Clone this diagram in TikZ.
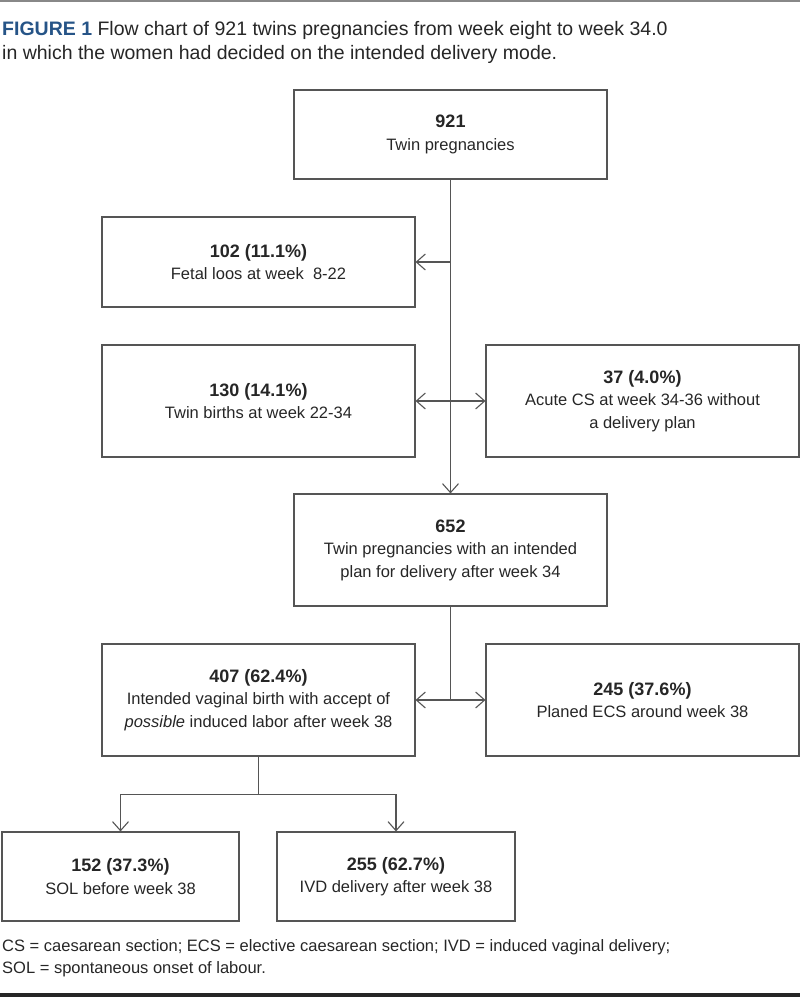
\documentclass[tikz,border=0pt]{standalone}
\usepackage{fontspec}
\setmainfont{Liberation Sans}
\usepackage{xcolor}
\usetikzlibrary{arrows.meta}

\definecolor{figblue}{RGB}{38,84,135}
\definecolor{linegray}{RGB}{85,85,85}
\definecolor{txtgray}{RGB}{38,38,38}

\newcommand{\boxnum}[1]{{\fontsize{18}{22.5}\selectfont\bfseries #1}}

\tikzset{
  flowbox/.style={draw=linegray, line width=1.1pt, text=txtgray, align=center,
    minimum width=313pt, minimum height=112pt, inner sep=0pt, font=\fontsize{16.5}{22.5}\selectfont},
  flowline/.style={draw=linegray, line width=1.1pt},
  flowarrow/.style={flowline, -{Straight Barb[length=9pt,width=16pt,line width=1.1pt]}},
  flowboth/.style={flowline, {Straight Barb[length=9pt,width=16pt,line width=1.1pt]}-{Straight Barb[length=9pt,width=16pt,line width=1.1pt]}}
}

\begin{document}
\begin{tikzpicture}[x=1pt,y=1pt,yscale=-1,xscale=1]
\useasboundingbox (0,0) rectangle (800,997);

%Rules
\fill[linegray!70] (0,0) rectangle (800,2);
\fill[black!85] (0,993) rectangle (800,997);

% Caption
\node[anchor=north west, inner sep=0pt, align=left, text=txtgray,
  font=\fontsize{19.5}{24}\selectfont] (caption) at (2,21)
  {{\color{figblue}\bfseries FIGURE 1} Flow chart of 921 twins pregnancies from week eight to week 34.0\\
   in which the women had decided on the intended delivery mode.};

%Boxes
\node[flowbox, minimum height=89pt] (twins) at (450.5,134.5) {\boxnum{921}\\Twin pregnancies};
\node[flowbox, minimum height=90pt] (loss) at (258.5,262) {\boxnum{102 (11.1\%)}\\Fetal loos at week~~8-22};
\node[flowbox] (early) at (258.5,401) {\boxnum{130 (14.1\%)}\\Twin births at week 22-34};
\node[flowbox] (acute) at (642.5,401) {\boxnum{37 (4.0\%)}\\Acute CS at week 34-36 without\\a delivery plan};
\node[flowbox] (plan) at (450.5,550) {\boxnum{652}\\Twin pregnancies with an intended\\plan for delivery after week 34};
\node[flowbox] (vaginal) at (258.5,700) {\boxnum{407 (62.4\%)}\\Intended vaginal birth with accept of\\\textit{possible} induced labor after week 38};
\node[flowbox] (elective) at (642.5,700) {\boxnum{245 (37.6\%)}\\Planed ECS around week 38};
\node[flowbox, minimum width=237pt, minimum height=89pt] (sol) at (120.5,876.5) {\boxnum{152 (37.3\%)}\\SOL before week 38};
\node[flowbox, minimum width=238pt, minimum height=89pt] (ivd) at (396,876.5) {\boxnum{255 (62.7\%)}\\IVD delivery after week 38};

%Connectors
\draw[flowarrow] (twins.south) -- (plan.north);
\draw[flowarrow] (loss.east -| twins.south) -- (loss.east);
\draw[flowboth] (early.east) -- (acute.west);
\draw[flowline] (plan.south) -- (plan.south |- vaginal.east);
\draw[flowboth] (vaginal.east) -- (elective.west);
\draw[flowarrow] (vaginal.south) -- ++(0,38) -| (sol.north);
\draw[flowarrow] (vaginal.south) -- ++(0,38) -| (ivd.north);

% Footnote
\node[anchor=north west, inner sep=0pt, align=left, text=txtgray,
  font=\fontsize{16.5}{22}\selectfont] (abbrev) at (2,939)
  {CS = caesarean section; ECS = elective caesarean section; IVD = induced vaginal delivery;\\
   SOL = spontaneous onset of labour.};

\end{tikzpicture}
\end{document}
